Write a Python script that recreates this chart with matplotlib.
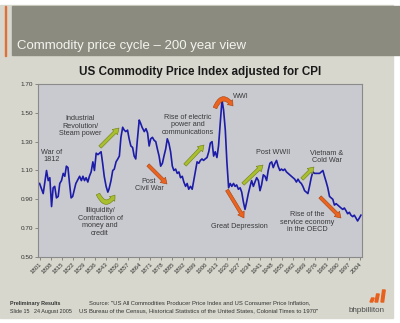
import matplotlib
matplotlib.use('Agg')
import matplotlib.pyplot as plt
from matplotlib.patches import Rectangle, FancyArrowPatch, Polygon

plt.rcParams['font.family'] = ['Liberation Sans', 'DejaVu Sans']

# US commodity price index adjusted for CPI
YEARS = [1801.0, 1803.3, 1805.4, 1806.5, 1807.5, 1808.6, 1809.6, 1810.6, 1811.7, 1812.8,
         1813.8, 1814.9, 1816.0, 1817.0, 1818.0, 1819.0, 1820.0, 1821.0, 1822.0, 1823.3,
         1824.0, 1826.4, 1827.5, 1828.5, 1829.5, 1830.5, 1831.6, 1832.6, 1833.7, 1834.8,
         1835.8, 1836.9, 1838.0, 1839.0, 1840.0, 1841.0, 1842.0, 1843.2, 1844.3, 1845.0,
         1846.3, 1847.4, 1848.4, 1849.5, 1850.6, 1851.6, 1852.6, 1853.7, 1854.7, 1855.7,
         1856.8, 1857.8, 1858.9, 1860.0, 1861.0, 1862.0, 1863.0, 1864.2, 1865.0, 1866.0,
         1867.4, 1868.5, 1869.5, 1870.5, 1871.5, 1872.6, 1873.6, 1874.7, 1875.7, 1876.8,
         1877.8, 1878.9, 1879.9, 1881.0, 1882.0, 1883.0, 1884.1, 1885.2, 1886.2, 1887.3,
         1888.3, 1889.4, 1890.4, 1891.5, 1892.5, 1893.6, 1894.6, 1895.6, 1896.7, 1897.8,
         1898.8, 1899.9, 1900.9, 1902.0, 1903.0, 1904.0, 1905.0, 1906.0, 1907.2, 1908.3,
         1909.3, 1910.4, 1911.4, 1912.4, 1913.5, 1914.5, 1915.6, 1916.7, 1917.7, 1918.8,
         1919.8, 1920.9, 1921.9, 1922.9, 1924.0, 1925.0, 1926.0, 1927.1, 1928.2, 1929.2,
         1930.3, 1931.3, 1932.3, 1933.4, 1934.5, 1935.5, 1936.6, 1937.6, 1938.7, 1939.8,
         1940.8, 1941.8, 1942.9, 1944.0, 1945.0, 1946.0, 1947.1, 1948.2, 1949.2, 1950.3,
         1951.3, 1952.3, 1953.4, 1954.4, 1955.5, 1956.5, 1957.6, 1958.6, 1959.7, 1960.7,
         1961.8, 1962.8, 1963.9, 1964.9, 1966.0, 1967.0, 1968.0, 1969.1, 1970.1, 1971.2,
         1972.2, 1973.3, 1974.3, 1975.4, 1976.5, 1977.5, 1978.6, 1979.6, 1980.7, 1981.7,
         1982.8, 1983.8, 1984.9, 1985.9, 1987.0, 1988.0, 1989.1, 1990.1, 1991.2, 1992.2,
         1993.3, 1994.3, 1995.4, 1996.4, 1997.5, 1998.5, 1999.6, 2000.6, 2001.7, 2002.7,
         2003.8, 2004.8]
INDEX = [1.01, 0.94, 1.10, 1.03, 1.05, 0.85, 0.98, 0.99, 0.91, 0.92,
         1.01, 1.03, 1.08, 1.06, 1.13, 1.12, 1.01, 0.91, 0.92, 0.98,
         1.01, 1.06, 1.03, 1.06, 1.03, 1.05, 1.02, 1.06, 1.09, 1.16,
         1.10, 1.22, 1.21, 1.22, 1.23, 1.15, 1.06, 0.99, 0.95, 0.97,
         1.03, 1.10, 1.11, 1.16, 1.18, 1.20, 1.33, 1.40, 1.38, 1.37,
         1.38, 1.32, 1.27, 1.26, 1.20, 1.18, 1.31, 1.45, 1.43, 1.40,
         1.37, 1.39, 1.36, 1.27, 1.32, 1.33, 1.31, 1.30, 1.25, 1.20,
         1.13, 1.15, 1.20, 1.25, 1.32, 1.29, 1.23, 1.13, 1.10, 1.11,
         1.08, 1.09, 1.05, 1.06, 1.02, 0.99, 1.01, 0.97, 0.99, 0.97,
         1.03, 1.10, 1.16, 1.15, 1.17, 1.18, 1.17, 1.18, 1.19, 1.23,
         1.29, 1.30, 1.20, 1.23, 1.19, 1.27, 1.43, 1.59, 1.52, 1.38,
         1.16, 0.98, 1.01, 0.99, 1.01, 0.99, 1.00, 0.97, 0.98, 0.95,
         0.88, 0.83, 0.88, 0.94, 0.99, 1.03, 0.99, 1.02, 1.05, 1.03,
         0.96, 1.00, 1.07, 1.06, 1.03, 1.10, 1.15, 1.16, 1.12, 1.15,
         1.17, 1.13, 1.10, 1.11, 1.10, 1.11, 1.09, 1.08, 1.07, 1.06,
         1.05, 1.04, 1.02, 1.04, 1.02, 1.01, 0.99, 0.96, 0.95, 0.94,
         0.99, 1.05, 1.09, 1.08, 1.08, 1.08, 1.08, 1.09, 1.10, 1.06,
         1.02, 0.98, 0.92, 0.91, 0.90, 0.86, 0.87, 0.86, 0.85, 0.84,
         0.83, 0.84, 0.82, 0.80, 0.81, 0.79, 0.78, 0.79, 0.77, 0.75,
         0.77, 0.79]

TICK_YEARS = [1801, 1808, 1815, 1822, 1829, 1836, 1843, 1850, 1857, 1864,
              1871, 1878, 1885, 1892, 1899, 1906, 1913, 1920, 1927, 1934,
              1941, 1948, 1955, 1962, 1969, 1976, 1983, 1990, 1997, 2004]
Y_TICKS = [0.50, 0.70, 0.90, 1.10, 1.30, 1.50, 1.70]

W, H = 400, 323


def fx(x):
    return x / W


def fy(y):
    return 1 - y / H


fig = plt.figure(figsize=(W / 100, H / 100), dpi=100, facecolor='white')

# slide background, header band and accent line
fig.patches.append(Rectangle((0, fy(318)), fx(393), fy(5) - fy(318),
                             transform=fig.transFigure, color='#d7d7cd', zorder=-3))
fig.patches.append(Rectangle((fx(12), fy(55)), 1 - fx(12), fy(6) - fy(55),
                             transform=fig.transFigure, color='#8b8b7f', zorder=-2))
fig.patches.append(Rectangle((fx(4.5), fy(56)), fx(1.2), fy(6) - fy(56),
                             transform=fig.transFigure, color='#e0703a', zorder=-2))

fig.text(fx(17), fy(49), 'Commodity price cycle \u2013 200 year view', color='#f4f4f0',
         fontsize=9.5, va='baseline', ha='left')
fig.text(fx(200), fy(72), 'US Commodity Price Index adjusted for CPI', color='#1a1a1a',
         fontsize=8.4, fontweight='bold', ha='center', va='center')

ax = fig.add_axes([fx(38), fy(257), fx(362) - fx(38), fy(84) - fy(257)])
ax.set_zorder(1)
ax.set_facecolor('#c9cad0')
ax.plot(YEARS, INDEX, color='#1c1ca8', lw=1.2)
ax.set_xlim(1800, 2005.5)
ax.set_ylim(0.5, 1.7)
ax.set_yticks(Y_TICKS)
ax.set_yticklabels(['%.2f' % v for v in Y_TICKS], fontsize=4.6, color='#333333')
ax.set_xticks(TICK_YEARS)
ax.set_xticklabels([str(t) for t in TICK_YEARS], fontsize=4.4, color='#333333',
                   rotation=45, ha='right', rotation_mode='anchor')
ax.tick_params(length=2, width=0.5, color='#666666', pad=1.5)
for s in ax.spines.values():
    s.set_color('#8a8a8a')
    s.set_linewidth(0.8)

# annotations
NOTE = dict(fontsize=5.2, color='#3a3a3a', ha='center', va='center',
            linespacing=1.15, transform=fig.transFigure, zorder=6)
fig.text(fx(52), fy(156), 'War of\n1812', **NOTE)
fig.text(fx(80), fy(126), 'Industrial\nRevolution/\nSteam power', **NOTE)
fig.text(fx(100), fy(222), 'Illiquidity/\nContraction of\nmoney and\ncredit', **NOTE)
fig.text(fx(149), fy(185), 'Post\nCivil War', **NOTE)
fig.text(fx(188), fy(125), 'Rise of electric\npower and\ncommunications', **NOTE)
fig.text(fx(241), fy(97), 'WWI', **NOTE)
fig.text(fx(239), fy(227), 'Great Depression', **NOTE)
fig.text(fx(273), fy(153), 'Post WWII', **NOTE)
fig.text(fx(327), fy(157), 'Vietnam &\nCold War', **NOTE)
fig.text(fx(307), fy(222), 'Rise of the\nservice economy\nin the OECD', **NOTE)

GREEN = ('#a9bf2e', '#6f7d12')
ORANGE = ('#ea6420', '#a8400f')


def arrow(x0, y0, x1, y1, col, rad=0.0, tw=2.4, hw=5.4, hl=4.2):
    p = FancyArrowPatch((fx(x0), fy(y0)), (fx(x1), fy(y1)), transform=fig.transFigure,
                        arrowstyle='simple,head_width=%s,head_length=%s,tail_width=%s'
                        % (hw, hl, tw),
                        connectionstyle='arc3,rad=%s' % rad,
                        fc=col[0], ec=col[1], lw=0.4, zorder=5,
                        shrinkA=0, shrinkB=0, mutation_scale=1)
    fig.patches.append(p)


arrow(100, 147, 119, 128, GREEN)
arrow(185, 165, 204, 145, GREEN)
arrow(243, 184, 263, 165, GREEN)
arrow(302, 179, 314, 167, GREEN)
arrow(148, 165, 167, 184, ORANGE)
arrow(227, 190, 244, 218, ORANGE)
arrow(320, 197, 341, 218, ORANGE)
arrow(98, 194, 115, 195, GREEN, rad=0.9, tw=2.8, hw=5.2, hl=3.5)
arrow(215, 108, 233, 106, ORANGE, rad=-0.9, tw=2.8, hw=5.2, hl=3.5)

# footer
FOOT = dict(color='#333333', transform=fig.transFigure, va='center')
fig.text(fx(10), fy(303), 'Preliminary Results', fontsize=3.9, fontweight='bold', **FOOT)
fig.text(fx(10), fy(311), 'Slide 15   24 August 2005', fontsize=3.9, **FOOT)
fig.text(fx(200), fy(303), 'Source: "US All Commodities Producer Price Index and US Consumer '
         'Price Inflation,', fontsize=4.2, ha='center', **FOOT)
fig.text(fx(199), fy(311), 'US Bureau of the Census, Historical Statistics of the United States, '
         'Colonial Times to 1970"', fontsize=4.2, ha='center', **FOOT)
fig.text(fx(367), fy(311), 'bhpbilliton', fontsize=5.8, color='#4a4a4a', ha='center',
         va='center', transform=fig.transFigure)
for x0, y0, h in [(370, 302, 4), (375, 302, 8), (381, 302, 12)]:
    fig.patches.append(Polygon([(fx(x0), fy(y0)), (fx(x0 + 2.6), fy(y0)),
                                (fx(x0 + 4.2), fy(y0 - h)), (fx(x0 + 1.6), fy(y0 - h))],
                               closed=True, transform=fig.transFigure, color='#e8601c'))

fig.savefig('out.png', dpi=100, facecolor=fig.get_facecolor())
